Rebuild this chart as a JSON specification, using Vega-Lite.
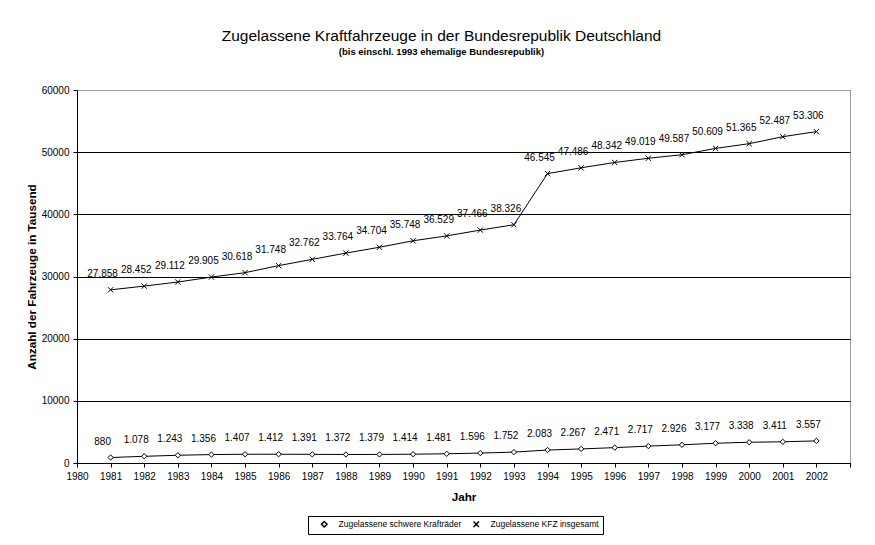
{
  "$schema": "https://vega.github.io/schema/vega-lite/v6.json",
  "width": 773,
  "height": 373,
  "autosize": {"type": "none"},
  "padding": {"left": 77, "top": 90, "right": 25, "bottom": 82},
  "background": "white",
  "title": {
    "text": "Zugelassene Kraftfahrzeuge in der Bundesrepublik Deutschland",
    "subtitle": "(bis einschl. 1993 ehemalige Bundesrepublik)",
    "anchor": "middle",
    "dx": -22,
    "offset": 29,
    "font": "Liberation Sans",
    "fontSize": 15.5,
    "fontWeight": "normal",
    "color": "black",
    "subtitleFont": "Liberation Sans",
    "subtitleFontSize": 9.5,
    "subtitleFontWeight": "bold",
    "subtitleColor": "black",
    "subtitlePadding": 2
  },
  "data": {
    "values": [
      {"Jahr": 1981, "Serie": "Zugelassene schwere Krafträder", "Wert": 880},
      {"Jahr": 1982, "Serie": "Zugelassene schwere Krafträder", "Wert": 1078},
      {"Jahr": 1983, "Serie": "Zugelassene schwere Krafträder", "Wert": 1243},
      {"Jahr": 1984, "Serie": "Zugelassene schwere Krafträder", "Wert": 1356},
      {"Jahr": 1985, "Serie": "Zugelassene schwere Krafträder", "Wert": 1407},
      {"Jahr": 1986, "Serie": "Zugelassene schwere Krafträder", "Wert": 1412},
      {"Jahr": 1987, "Serie": "Zugelassene schwere Krafträder", "Wert": 1391},
      {"Jahr": 1988, "Serie": "Zugelassene schwere Krafträder", "Wert": 1372},
      {"Jahr": 1989, "Serie": "Zugelassene schwere Krafträder", "Wert": 1379},
      {"Jahr": 1990, "Serie": "Zugelassene schwere Krafträder", "Wert": 1414},
      {"Jahr": 1991, "Serie": "Zugelassene schwere Krafträder", "Wert": 1481},
      {"Jahr": 1992, "Serie": "Zugelassene schwere Krafträder", "Wert": 1596},
      {"Jahr": 1993, "Serie": "Zugelassene schwere Krafträder", "Wert": 1752},
      {"Jahr": 1994, "Serie": "Zugelassene schwere Krafträder", "Wert": 2083},
      {"Jahr": 1995, "Serie": "Zugelassene schwere Krafträder", "Wert": 2267},
      {"Jahr": 1996, "Serie": "Zugelassene schwere Krafträder", "Wert": 2471},
      {"Jahr": 1997, "Serie": "Zugelassene schwere Krafträder", "Wert": 2717},
      {"Jahr": 1998, "Serie": "Zugelassene schwere Krafträder", "Wert": 2926},
      {"Jahr": 1999, "Serie": "Zugelassene schwere Krafträder", "Wert": 3177},
      {"Jahr": 2000, "Serie": "Zugelassene schwere Krafträder", "Wert": 3338},
      {"Jahr": 2001, "Serie": "Zugelassene schwere Krafträder", "Wert": 3411},
      {"Jahr": 2002, "Serie": "Zugelassene schwere Krafträder", "Wert": 3557},
      {"Jahr": 1981, "Serie": "Zugelassene KFZ insgesamt", "Wert": 27858},
      {"Jahr": 1982, "Serie": "Zugelassene KFZ insgesamt", "Wert": 28452},
      {"Jahr": 1983, "Serie": "Zugelassene KFZ insgesamt", "Wert": 29112},
      {"Jahr": 1984, "Serie": "Zugelassene KFZ insgesamt", "Wert": 29905},
      {"Jahr": 1985, "Serie": "Zugelassene KFZ insgesamt", "Wert": 30618},
      {"Jahr": 1986, "Serie": "Zugelassene KFZ insgesamt", "Wert": 31748},
      {"Jahr": 1987, "Serie": "Zugelassene KFZ insgesamt", "Wert": 32762},
      {"Jahr": 1988, "Serie": "Zugelassene KFZ insgesamt", "Wert": 33764},
      {"Jahr": 1989, "Serie": "Zugelassene KFZ insgesamt", "Wert": 34704},
      {"Jahr": 1990, "Serie": "Zugelassene KFZ insgesamt", "Wert": 35748},
      {"Jahr": 1991, "Serie": "Zugelassene KFZ insgesamt", "Wert": 36529},
      {"Jahr": 1992, "Serie": "Zugelassene KFZ insgesamt", "Wert": 37466},
      {"Jahr": 1993, "Serie": "Zugelassene KFZ insgesamt", "Wert": 38326},
      {"Jahr": 1994, "Serie": "Zugelassene KFZ insgesamt", "Wert": 46545},
      {"Jahr": 1995, "Serie": "Zugelassene KFZ insgesamt", "Wert": 47486},
      {"Jahr": 1996, "Serie": "Zugelassene KFZ insgesamt", "Wert": 48342},
      {"Jahr": 1997, "Serie": "Zugelassene KFZ insgesamt", "Wert": 49019},
      {"Jahr": 1998, "Serie": "Zugelassene KFZ insgesamt", "Wert": 49587},
      {"Jahr": 1999, "Serie": "Zugelassene KFZ insgesamt", "Wert": 50609},
      {"Jahr": 2000, "Serie": "Zugelassene KFZ insgesamt", "Wert": 51365},
      {"Jahr": 2001, "Serie": "Zugelassene KFZ insgesamt", "Wert": 52487},
      {"Jahr": 2002, "Serie": "Zugelassene KFZ insgesamt", "Wert": 53306}
    ]
  },
  "encoding": {
    "x": {
      "field": "Jahr",
      "type": "quantitative",
      "scale": {"domain": [1980, 2003], "nice": false, "zero": false},
      "axis": {
        "title": "Jahr",
        "values": [1980, 1981, 1982, 1983, 1984, 1985, 1986, 1987, 1988, 1989, 1990, 1991, 1992, 1993, 1994, 1995, 1996, 1997, 1998, 1999, 2000, 2001, 2002, 2003],
        "labelExpr": "datum.value == 2003 ? '' : datum.value",
        "grid": false,
        "labelFlush": false,
        "labelOverlap": false
      }
    },
    "y": {
      "field": "Wert",
      "type": "quantitative",
      "scale": {"domain": [0, 60000], "nice": false},
      "axis": {
        "title": "Anzahl der Fahrzeuge in Tausend",
        "values": [0, 10000, 20000, 30000, 40000, 50000, 60000],
        "format": "d",
        "grid": true,
        "gridColor": {"condition": {"test": "datum.value == 60000", "value": "#999999"}, "value": "black"},
        "titlePadding": 4
      }
    }
  },
  "layer": [
    {
      "mark": {"type": "line", "color": "black", "strokeWidth": 1},
      "encoding": {"detail": {"field": "Serie", "type": "nominal"}}
    },
    {
      "mark": {"type": "point", "filled": false, "color": "black", "fill": "white", "fillOpacity": 1, "opacity": 1, "strokeWidth": 1, "size": 28},
      "encoding": {
        "shape": {
          "field": "Serie",
          "type": "nominal",
          "scale": {
            "domain": ["Zugelassene schwere Krafträder", "Zugelassene KFZ insgesamt"],
            "range": ["M0,-1L1,0L0,1L-1,0Z", "M-1,-1L1,1M-1,1L1,-1"]
          },
          "legend": {
            "title": null,
            "orient": "none",
            "legendX": 231,
            "legendY": 426,
            "direction": "horizontal",
            "symbolSize": 30,
            "symbolOffset": 8,
            "labelFont": "Liberation Sans",
            "labelFontSize": 8.5,
            "labelColor": "black",
            "labelOffset": 10,
            "columnPadding": 2,
            "strokeColor": "black",
            "fillColor": "white",
            "padding": 4
          }
        }
      }
    },
    {
      "mark": {"type": "text", "dy": -16, "dx": -8, "font": "Liberation Sans", "fontSize": 10, "color": "black"},
      "encoding": {"text": {"field": "Wert", "type": "quantitative", "format": ",d"}}
    }
  ],
  "config": {
    "locale": {"number": {"decimal": ",", "thousands": ".", "grouping": [3], "currency": ["", " €"]}},
    "font": "Liberation Sans",
    "view": {"stroke": "#999999", "strokeWidth": 1},
    "axis": {
      "domainColor": "black",
      "tickColor": "black",
      "tickSize": 4,
      "labelFont": "Liberation Sans",
      "labelFontSize": 10,
      "labelColor": "black",
      "titleFont": "Liberation Sans",
      "titleFontSize": 11.7,
      "titleFontWeight": "bold",
      "titleColor": "black",
      "gridWidth": 1
    },
    "axisX": {"labelPadding": 4, "titlePadding": 10},
    "axisY": {"labelPadding": 4}
  }
}
